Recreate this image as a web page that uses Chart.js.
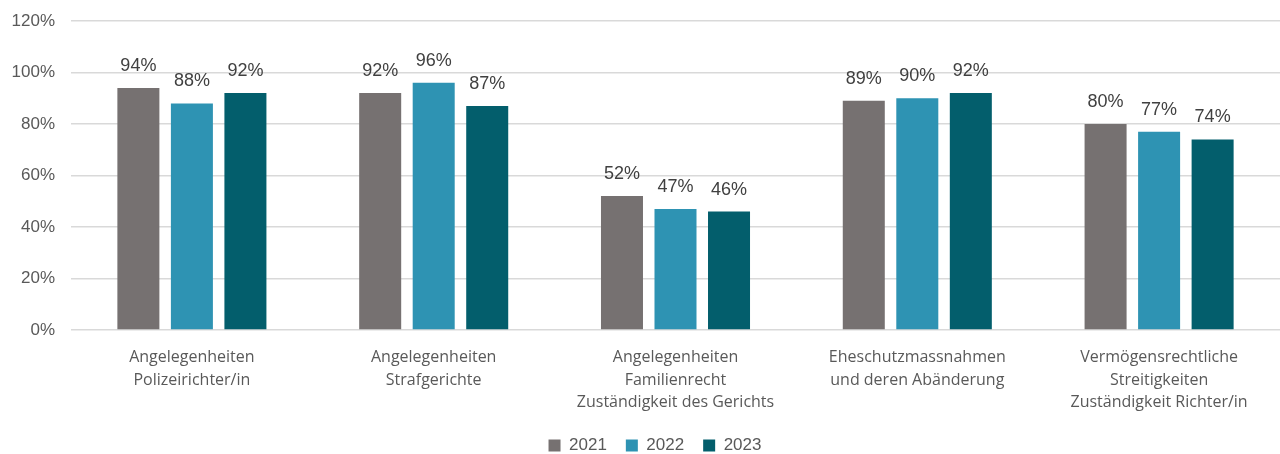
<!DOCTYPE html>
<html>
<head>
<meta charset="utf-8">
<script src="https://cdn.jsdelivr.net/npm/chart.js@4"></script>
<style>
    html, body { margin: 0; padding: 0; background: #ffffff; }
    #wrap { width: 1280px; height: 454px; }
</style>
</head>
<body>
<div id="wrap"><canvas id="chart"></canvas></div>
<script>
// Anteil der Verfahren je Bereich (in %)
const categories = [
    ["Angelegenheiten", "Polizeirichter/in"],
    ["Angelegenheiten", "Strafgerichte"],
    ["Angelegenheiten", "Familienrecht", "Zuständigkeit des Gerichts"],
    ["Eheschutzmassnahmen", "und deren Abänderung"],
    ["Vermögensrechtliche", "Streitigkeiten", "Zuständigkeit Richter/in"]
];
const years = ["2021", "2022", "2023"];
const values2021 = [94, 92, 52, 89, 80];
const values2022 = [88, 96, 47, 90, 77];
const values2023 = [92, 87, 46, 92, 74];
const yTicks = [0, 20, 40, 60, 80, 100, 120];

const colors = ["#767171", "#2e93b3", "#035e6c"];
const arial = "'Liberation Sans', Arial, sans-serif";

/* Writes the value above each bar */
const valueLabels = {
    id: "valueLabels",
    afterDatasetsDraw(chart){
        const ctx = chart.ctx;
        ctx.save();
        ctx.font = "18px " + arial;
        ctx.fillStyle = "#404040";
        ctx.textAlign = "center";
        ctx.textBaseline = "middle";
        chart.data.datasets.forEach((ds, i) => {
            chart.getDatasetMeta(i).data.forEach((bar, j) => {
                ctx.fillText(ds.data[j] + "%", bar.x, bar.y - 22);
            });
        });
        ctx.restore();
    }
};

/* Nudges the legend row a bit to the right */
const legendShift = {
    id: "legendShift",
    afterLayout(chart){
        const shift = 15;
        chart.legend.left += shift;
        chart.legend.right += shift;
    }
};

const ctx = document.getElementById("chart").getContext("2d");

new Chart(ctx, {
    type: "bar",
    data: {
        labels: categories,
        datasets: [
            { label: years[0], data: values2021, backgroundColor: colors[0] },
            { label: years[1], data: values2022, backgroundColor: colors[1] },
            { label: years[2], data: values2023, backgroundColor: colors[2] }
        ]
    },
    options: {
        responsive: true,
        maintainAspectRatio: false,
        animation: false,
        // negative bottom padding pushes the legend row lower
        layout: { padding: { top: 21, right: 0, left: 0, bottom: -10 } },
        categoryPercentage: 0.664,
        barPercentage: 0.785,
        plugins: {
            legend: {
                position: "bottom",
                labels: {
                    boxWidth: 12,
                    boxHeight: 12,
                    padding: 19,
                    color: "#595959",
                    font: { family: arial, size: 17 }
                }
            },
            tooltip: { enabled: false }
        },
        scales: {
            y: {
                min: 0,
                max: 120,
                afterBuildTicks(scale){
                    scale.ticks = yTicks.map(v => ({ value: v }));
                },
                afterFit(scale){
                    scale.width = 71;
                    scale.paddingTop = 0;
                    scale.paddingBottom = 0;
                },
                border: { display: false },
                grid: { color: "#d9d9d9", lineWidth: 1.5, drawTicks: false },
                ticks: {
                    padding: 16,
                    color: "#595959",
                    font: { family: arial, size: 17 },
                    callback: v => v + "%"
                }
            },
            x: {
                afterFit(scale){
                    scale.height = 88;
                },
                border: { display: false },
                grid: { display: false },
                ticks: {
                    padding: 8,
                    color: "#595959",
                    font: { family: "'Open Sans', sans-serif", size: 16, lineHeight: 1.42 },
                    maxRotation: 0,
                    autoSkip: false
                }
            }
        }
    },
    plugins: [valueLabels, legendShift]
});
</script>
</body>
</html>
